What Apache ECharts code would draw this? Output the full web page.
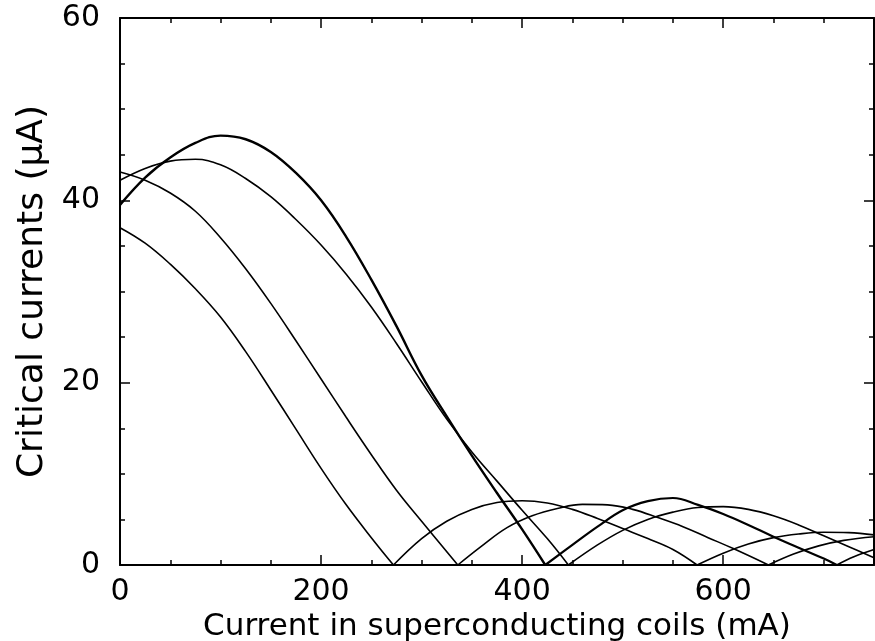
<!DOCTYPE html>
<html>
<head>
	<meta charset="UTF-8">
	<title>Critical currents</title>
	<script src="https://cdn.jsdelivr.net/npm/echarts@6/dist/echarts.min.js"></script>
	<style>
		html, body { margin: 0; padding: 0; background: #fff; }
		#chart { width: 875px; height: 641px; }
	</style>
</head>
<body>
	<div id="chart"></div>
	<script type="text/javascript">
		// axis ticks
		var xLabelTicks = [0, 200, 400, 600];
		var yLabelTicks = [0, 20, 40, 60];

		// main lobes [current mA, critical current uA]
		var lobeA0 = [[0, 37.0], [25, 35.3], [50, 33.0], [75, 30.3], [100, 27.2], [125, 23.4], [150, 19.2], [175, 14.9], [200, 10.6], [225, 6.6], [250, 3.0], [272, 0]];
		var lobeB0 = [[0, 43.1], [25, 42.2], [50, 40.8], [75, 38.8], [100, 35.9], [125, 32.5], [150, 28.7], [175, 24.6], [200, 20.4], [225, 16.2], [250, 12.1], [275, 8.2], [300, 4.8], [336, 0]];
		var lobeC0 = [[0, 42.2], [25, 43.5], [50, 44.3], [75, 44.5], [100, 43.9], [125, 42.4], [150, 40.4], [175, 37.9], [200, 35.1], [225, 31.9], [250, 28.3], [275, 24.3], [300, 20.1], [325, 16.0], [350, 12.4], [375, 9.2], [400, 6.0], [425, 2.9], [446, 0]];
		var lobeD0 = [[0, 39.5], [25, 42.5], [50, 44.7], [75, 46.3], [100, 47.1], [125, 46.7], [150, 45.3], [175, 43.0], [200, 40.0], [225, 36.0], [250, 31.3], [275, 26.2], [300, 20.8], [325, 16.3], [350, 12.0], [375, 7.9], [400, 3.9], [423, 0]];

		// first side lobes
		var lobeA1 = [[272, 0], [300, 2.9], [325, 4.8], [350, 6.1], [375, 6.85], [400, 7.05], [425, 6.8], [450, 6.1], [475, 5.1], [500, 4.0], [525, 2.9], [550, 1.7], [574, 0]];
		var lobeB1 = [[336, 0], [360, 2.1], [385, 4.1], [410, 5.4], [435, 6.2], [460, 6.65], [485, 6.6], [510, 6.1], [535, 5.2], [560, 4.2], [585, 3.0], [610, 1.8], [645, 0]];
		var lobeC1 = [[446, 0], [475, 2.2], [500, 3.8], [525, 5.0], [550, 5.8], [575, 6.3], [600, 6.4], [625, 6.1], [650, 5.4], [675, 4.4], [700, 3.2], [725, 2.0], [750, 0.8]];
		var lobeD1 = [[423, 0], [450, 2.2], [475, 4.2], [500, 6.0], [525, 7.0], [550, 7.35], [575, 6.6], [600, 5.6], [625, 4.4], [650, 3.1], [675, 1.9], [700, 0.7], [713, 0]];

		// second side lobes
		var lobeA2 = [[574, 0], [600, 1.3], [625, 2.3], [650, 3.0], [675, 3.4], [700, 3.6], [725, 3.55], [750, 3.3]];
		var lobeB2 = [[645, 0], [670, 1.2], [695, 2.1], [720, 2.7], [750, 3.1]];
		var lobeD2 = [[713, 0], [730, 0.9], [750, 1.7]];

		var font = 'DejaVu Sans';

		function makeLine(data, width) {
			return {
				type: 'line',
				data: data,
				xAxisIndex: 0,
				yAxisIndex: 0,
				smooth: 0.4,
				showSymbol: false,
				silent: true,
				lineStyle: { color: '#000', width: width }
			};
		}

		function xAx(pos, step, len, first) {
			return {
				type: 'value',
				position: pos,
				min: 0,
				max: 750,
				interval: step,
				axisLine: { show: first, onZero: false, lineStyle: { color: '#000', width: 2 } },
				axisTick: { inside: true, length: len, lineStyle: { color: '#000', width: 1.5 } },
				axisLabel: {
					show: first && pos === 'bottom',
					margin: 12,
					color: '#000',
					fontFamily: font,
					fontSize: 30,
					formatter: function (v) { return xLabelTicks.indexOf(v) >= 0 ? String(v) : ''; }
				},
				splitLine: { show: false },
				name: (first && pos === 'bottom') ? 'Current in superconducting coils (mA)' : '',
				nameLocation: 'middle',
				nameGap: 38,
				nameTextStyle: { color: '#000', fontFamily: font, fontSize: 31 }
			};
		}

		function yAx(pos, step, len, first) {
			return {
				type: 'value',
				position: pos,
				min: 0,
				max: 60,
				interval: step,
				axisLine: { show: first, onZero: false, lineStyle: { color: '#000', width: 2 } },
				axisTick: { inside: true, length: len, lineStyle: { color: '#000', width: 1.5 } },
				axisLabel: {
					show: first && pos === 'left',
					margin: 20,
					color: '#000',
					fontFamily: font,
					fontSize: 30,
					formatter: function (v) { return yLabelTicks.indexOf(v) >= 0 ? String(v) : ''; }
				},
				splitLine: { show: false },
				name: (first && pos === 'left') ? 'Critical currents (\u03bcA)' : '',
				nameLocation: 'middle',
				nameRotate: 90,
				nameGap: 64,
				nameTextStyle: { color: '#000', fontFamily: font, fontSize: 36 }
			};
		}

		var chart = echarts.init(document.getElementById('chart'), null, { renderer: 'canvas' });
		var option = {
			backgroundColor: '#fff',
			animation: false,
			grid: { left: 120, right: 1, top: 18, bottom: 76, containLabel: false, outerBoundsMode: 'none' },
			xAxis: [
				xAx('bottom', 50, 5, true),
				xAx('bottom', 200, 10, false),
				xAx('top', 50, 5, true),
				xAx('top', 200, 10, false)
			],
			yAxis: [
				yAx('left', 5, 5, true),
				yAx('left', 20, 10, false),
				yAx('right', 5, 5, true),
				yAx('right', 20, 10, false)
			],
			series: [
				makeLine(lobeA0, 1.6),
				makeLine(lobeB0, 1.6),
				makeLine(lobeC0, 1.6),
				makeLine(lobeD0, 2.4),
				makeLine(lobeA1, 1.6),
				makeLine(lobeB1, 1.6),
				makeLine(lobeC1, 1.6),
				makeLine(lobeD1, 2.2),
				makeLine(lobeA2, 1.6),
				makeLine(lobeB2, 1.6),
				makeLine(lobeD2, 1.6)
			]
		};
		chart.setOption(option);
	</script>
</body>
</html>
